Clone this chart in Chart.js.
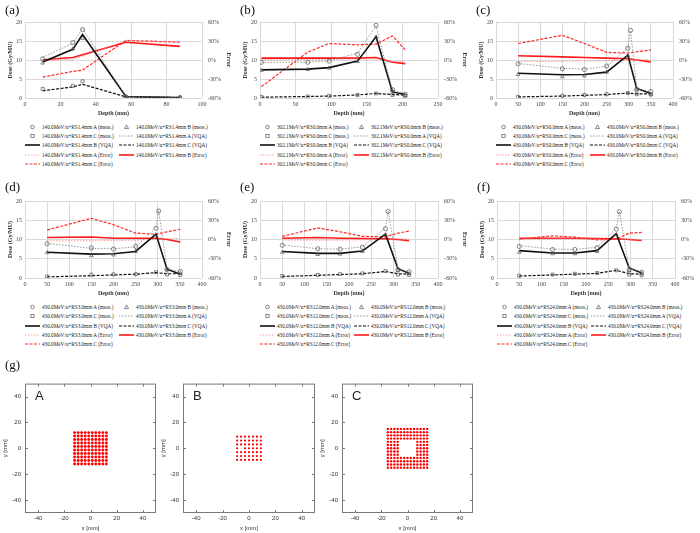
<!DOCTYPE html>
<html>
<head>
<meta charset="utf-8">
<script src="https://cdn.jsdelivr.net/npm/chart.js@4.4.1/dist/chart.umd.min.js"></script>
<style>
  body { margin: 0; width: 700px; height: 533px; overflow: hidden; background: #fff; position: relative; font-family: "Liberation Serif", serif; }
  .cv { position: absolute; }
  .tag { position: absolute; font: 13px "Liberation Serif", serif; color: #111; line-height: 1; }
  .lg { position: absolute; font: 5.2px "Liberation Serif", serif; color: #222; white-space: nowrap; line-height: 6px; height: 6px; }
  .lg svg { position: absolute; top: 0; }
  .lg span { position: absolute; top: 0; }
  .spot { position: absolute; font: 13px "Liberation Sans", sans-serif; color: #222; line-height: 1; }
</style>
</head>
<body>
<script>
// ---- (a) 140.0 MeV/u ----
const aDepth = [10, 27, 32.5, 57, 87.5];
const aMeasA = [10.3, 14.6, 18.0, 0.3, 0.1];
const aMeasB = [9.2, 12.9, 15.7, 0.3, 0.1];
const aMeasC = [2.4, 3.2, 4.4, 0.2, 0.1];
const aVqaA = [10.7, 14.4, 18.3, 0.4, 0.1];
const aVqaB = [9.5, 12.8, 16.7, 0.4, 0.1];
const aVqaC = [1.9, 2.9, 3.6, 0.3, 0.1];
const aErrA = [-1, 0.5, 6, 31, 29];
const aErrB = [0.5, 4, 8.4, 28, 21.5];
const aErrC = [-27, -18, -16, 31, 28];

// ---- (b) 302.1 MeV/u ----
const bDepth = [2, 67, 97, 137, 163, 186, 204];
const bMeasA = [9.4, 9.4, 9.7, 11.5, 19.1, 2.2, 1.0];
const bMeasB = [7.3, 7.5, 7.9, 9.6, 16.0, 1.9, 0.6];
const bMeasC = [0.3, 0.4, 0.6, 0.8, 1.2, 0.8, 0.6];
const bVqaA = [9.4, 9.4, 9.8, 11.8, 18.9, 2.0, 1.2];
const bVqaB = [7.4, 7.6, 8.0, 9.7, 16.1, 1.6, 0.9];
const bVqaC = [0.2, 0.4, 0.5, 0.8, 1.2, 0.9, 0.8];
const bErrA = [0.5, 0.5, 1, 1.5, 1.5, -2.6, -2.6];
const bErrB = [3, 3, 3, 3, 4, -3.6, -5.7];
const bErrC = [-42, 12.4, 26, 24, 25, 38, 16];

// ---- (c) 430.0 MeV/u RS0.0 ----
const cDepth = [50, 150, 200, 250, 298, 304, 318, 350];
const cMeasA = [9.0, 7.7, 7.5, 8.4, 13.1, 17.8, 2.3, 1.7];
const cMeasB = [6.2, 5.6, 5.8, 6.8, 11.1, null, 2.2, 1.0];
const cMeasC = [0.3, 0.6, 0.8, 1.0, 1.3, null, 1.0, 0.9];
const cVqaA = [9.1, 7.8, 7.6, 8.3, 13.2, 17.7, 2.5, 1.6];
const cVqaB = [6.5, 6.1, 6.2, 6.8, 11.3, null, 2.5, 1.2];
const cVqaC = [0.3, 0.5, 0.7, 0.9, 1.3, null, 1.1, 1.1];
const cErrA = [-2.6, -2, -1.5, -1, -0.5, null, 0, 0.5];
const cErrB = [6.7, 5, 4, 3, 2, null, 0, -3];
const cErrC = [26, 39, 26, 12, 11, null, 13, 16];

// ---- (d) 430.0 MeV/u RS3.0 ----
const dDepth = [50, 150, 200, 250, 296, 302, 321, 351];
const dMeasA = [8.9, 7.8, 7.5, 8.2, 12.9, 17.4, 2.2, 1.7];
const dMeasB = [6.6, 5.8, 6.0, 6.9, 11.2, null, 2.2, 1.2];
const dMeasC = [0.4, 0.9, 0.95, 1.0, 1.5, null, 0.9, 0.8];
const dVqaA = [9.0, 7.7, 7.6, 8.1, 13.0, 17.6, 2.4, 1.6];
const dVqaB = [6.7, 6.2, 6.3, 6.9, 11.4, null, 2.3, 1.0];
const dVqaC = [0.3, 0.6, 0.8, 1.0, 1.4, null, 1.1, 1.1];
const dErrA = [-2, -2, -1.5, -1, 0, null, 1, 2];
const dErrB = [3, 4, 2, 2, 2, null, 0, -4];
const dErrC = [15, 33, 23, 10, 8, null, 12, 16];

// ---- (e) 430.0 MeV/u RS12.0 ----
const eDepth = [50, 130, 180, 230, 282, 288, 310, 335];
const eMeasA = [8.5, 7.6, 7.5, 8.0, 12.8, 17.3, 2.2, 1.6];
const eMeasB = [6.7, 6.1, 6.2, 6.9, 11.2, null, 2.0, 1.1];
const eMeasC = [0.5, 0.8, 1.0, 1.2, 1.8, null, 0.9, 0.8];
const eVqaA = [8.6, 7.6, 7.5, 8.1, 13.0, 17.4, 2.4, 1.6];
const eVqaB = [6.9, 6.4, 6.4, 7.0, 11.4, null, 2.4, 1.2];
const eVqaC = [0.4, 0.7, 0.9, 1.1, 1.7, null, 1.1, 1.0];
const eErrA = [-1, -1, -1, -0.5, 0, null, 0.5, 1];
const eErrB = [2, 3, 2, 1.5, 1, null, 0, -2];
const eErrC = [5, 18, 12, 5, 4, null, 10, 13];

// ---- (f) 430.0 MeV/u RS24.0 ----
const fDepth = [50, 125, 175, 225, 268, 275, 297, 325];
const fMeasA = [8.2, 7.4, 7.4, 7.9, 12.7, 17.2, 2.2, 1.5];
const fMeasB = [6.7, 6.3, 6.3, 6.9, 11.2, null, 1.9, 1.1];
const fMeasC = [0.6, 0.9, 1.1, 1.3, 2.0, null, 0.9, 0.7];
const fVqaA = [8.4, 7.5, 7.4, 8.0, 12.9, 17.3, 2.4, 1.6];
const fVqaB = [7.1, 6.5, 6.5, 7.1, 11.5, null, 2.6, 1.3];
const fVqaC = [0.5, 0.8, 1.0, 1.2, 2.0, null, 1.1, 1.0];
const fErrA = [0.5, 1, 1, 0.5, 0.5, null, 0, -0.5];
const fErrB = [2, 2, 2, 1.5, 1, null, 0, -1.5];
const fErrC = [0.5, 5.7, 3.6, -0.5, 0.5, null, 10, 11];

// ---- (g) spot patterns ----
const gridA = [-12.15, -9.45, -6.75, -4.05, -1.35, 1.35, 4.05, 6.75, 9.45, 12.15];
const maskA = [
  "1111111111", "1111111111", "1111111111", "1111111111", "1111111111",
  "1111111111", "1111111111", "1111111111", "1111111111", "1111111111",
];
const gridB = [-9, -6, -3, 0, 3, 6, 9];
const maskB = ["1111111", "1111111", "1111111", "1011111", "1111111", "1111111", "1111111"];
const gridC = [-15, -12.5, -10, -7.5, -5, -2.5, 0, 2.5, 5, 7.5, 10, 12.5, 15];
const maskC = [
  "1111111111111", "1111111111111", "1111111111111", "1111111111111",
  "1111000001111", "1111000001111", "1111000001111", "1111000001111", "1111000001111",
  "1111111111111", "1111111111111", "1111111111111", "1111111111111",
];

const seriesNames = ["A (meas.)", "B (meas.)", "C (meas.)", "A (VQA)", "B (VQA)", "C (VQA)", "A (Error)", "B (Error)", "C (Error)"];

Chart.defaults.font.family = '"Liberation Serif", serif';
Chart.defaults.animation = false;

const GRID = "#d9d9d9";
const styles = [
  { kind: "pt", pointStyle: "circle", color: "#555" },
  { kind: "pt", pointStyle: "triangle", color: "#555" },
  { kind: "pt", pointStyle: "rect", color: "#555" },
  { kind: "ln", color: "#808080", width: 0.8, dash: [1.5, 1.5], axis: "y" },
  { kind: "ln", color: "#111", width: 1.6, dash: [], axis: "y" },
  { kind: "ln", color: "#111", width: 1.2, dash: [3, 1.5], axis: "y" },
  { kind: "ln", color: "#ff8080", width: 0.8, dash: [1.5, 1.5], axis: "y1" },
  { kind: "ln", color: "#ff1a1a", width: 1.6, dash: [], axis: "y1" },
  { kind: "ln", color: "#ff2a2a", width: 1.2, dash: [3, 1.5], axis: "y1" },
];

function pairs(xs, ys) {
  return xs.map((x, i) => ({ x, y: ys[i] })).filter((p) => p.y !== null);
}

function addBox(tag, left, top, width, height) {
  const el = document.createElement(tag);
  el.className = "cv";
  el.style.left = left + "px";
  el.style.top = top + "px";
  el.style.width = width + "px";
  el.style.height = height + "px";
  document.body.appendChild(el);
  return el;
}

function addText(cls, text, left, top) {
  const el = document.createElement("div");
  el.className = cls;
  el.textContent = text;
  el.style.left = left + "px";
  el.style.top = top + "px";
  document.body.appendChild(el);
  return el;
}

function swatch(st) {
  if (st.kind === "pt") {
    let shape = '<circle cx="7.5" cy="3" r="1.8"';
    if (st.pointStyle === "triangle") shape = '<polygon points="7.5,0.9 9.5,4.6 5.5,4.6"';
    if (st.pointStyle === "rect") shape = '<rect x="5.9" y="1.4" width="3.2" height="3.2"';
    return `<svg width="15" height="6">${shape} fill="none" stroke="${st.color}" stroke-width="0.7"/></svg>`;
  }
  return `<svg width="15" height="6"><line x1="0" y1="3" x2="15" y2="3" stroke="${st.color}" stroke-width="${st.width}" stroke-dasharray="${st.dash.join(" ")}"/></svg>`;
}

function buildLegend(prefix, chartLeft, rows) {
  seriesNames.forEach((name, i) => {
    const col = i % 2;
    const row = Math.floor(i / 2);
    const x = chartLeft + (col === 0 ? 0 : 94);
    const el = document.createElement("div");
    el.className = "lg";
    el.style.left = x + "px";
    el.style.top = (rows[row] - 3) + "px";
    el.innerHTML = swatch(styles[i]) + `<span style="left:17px">${prefix} ${name}</span>`;
    document.body.appendChild(el);
  });
}

function depthPanel(p) {
  // the right strip of (c) runs past the page edge, so its title is cut off as in the figure
  const rightW = p.rightW || 30;
  const w = p.right - p.left + 25 + rightW;
  const h = 22 + (p.bottom - p.top) + 22;
  const canvas = addBox("canvas", p.left - 25, p.top - 22, w, h);
  const series = [p.measA, p.measB, p.measC, p.vqaA, p.vqaB, p.vqaC, p.errA, p.errB, p.errC];
  const datasets = series.map((vals, i) => {
    const st = styles[i];
    const base = { label: p.prefix + " " + seriesNames[i], data: pairs(p.depth, vals) };
    if (st.kind === "pt") {
      return Object.assign(base, {
        yAxisID: "y", showLine: false, pointStyle: st.pointStyle, pointRadius: 2.1,
        pointBorderWidth: 0.7, pointBorderColor: st.color, pointBackgroundColor: "rgba(255,255,255,0)",
        borderColor: st.color, order: 0,
      });
    }
    return Object.assign(base, {
      yAxisID: st.axis, borderColor: st.color, borderWidth: st.width, borderDash: st.dash,
      pointRadius: 0, tension: 0, spanGaps: true, fill: false, order: 1,
    });
  });
  const tickFont = { size: 6 };
  new Chart(canvas, {
    type: "line",
    data: { datasets },
    options: {
      responsive: false,
      layout: { padding: { top: 22, left: 0, right: 0, bottom: 0 } },
      plugins: { legend: { display: false }, tooltip: { enabled: false } },
      scales: {
        x: {
          type: "linear", min: 0, max: p.xMax,
          ticks: { stepSize: p.xStep, font: tickFont, color: "#444", padding: 3, maxRotation: 0 },
          grid: { color: GRID, drawTicks: false },
          border: { display: false },
          title: { display: true, text: "Depth (mm)", font: { size: 6, weight: "bold" }, color: "#333", padding: { top: 0, bottom: 3.4 } },
          afterFit: (s) => { s.height = 22; },
        },
        y: {
          position: "left", min: 0, max: 20,
          ticks: { stepSize: 5, font: tickFont, color: "#444", padding: 3 },
          grid: { color: GRID, drawTicks: false },
          border: { display: false },
          title: { display: true, text: "Dose (Gy/MU)", font: { size: 6, weight: "bold" }, color: "#333", padding: { top: 7, bottom: 0 } },
          afterFit: (s) => { s.width = 25; },
        },
        y1: {
          position: "right", min: -60, max: 60,
          ticks: { stepSize: 30, font: tickFont, color: "#444", padding: 6, callback: (v) => v + "%" },
          grid: { display: false, drawTicks: false },
          border: { display: false },
          title: { display: true, text: "Error", font: { size: 6, weight: "bold" }, color: "#333", padding: { top: 0, bottom: 0 } },
          afterFit: (s) => { s.width = rightW; },
        },
      },
    },
  });
}

const framePlugin = {
  id: "frame",
  afterDraw(chart) {
    const { ctx, chartArea: a, scales } = chart;
    ctx.save();
    ctx.strokeStyle = "#7a7a7a";
    ctx.lineWidth = 1;
    ctx.strokeRect(a.left + 0.5, a.top + 0.5, a.right - a.left - 1, a.bottom - a.top - 1);
    ctx.beginPath();
    scales.x.ticks.forEach((t) => {
      const px = Math.round(scales.x.getPixelForValue(t.value)) + 0.5;
      ctx.moveTo(px, a.bottom); ctx.lineTo(px, a.bottom - 3);
      ctx.moveTo(px, a.top); ctx.lineTo(px, a.top + 3);
    });
    scales.y.ticks.forEach((t) => {
      const py = Math.round(scales.y.getPixelForValue(t.value)) + 0.5;
      ctx.moveTo(a.left, py); ctx.lineTo(a.left + 3, py);
      ctx.moveTo(a.right, py); ctx.lineTo(a.right - 3, py);
    });
    ctx.stroke();
    ctx.restore();
  },
};

function spotPanel(grid, mask, left, right, radius, letter) {
  const top = 380, bottom = 513;
  const canvas = addBox("canvas", left - 25, top - 4, right - left + 27, bottom - top + 24);
  const pts = [];
  mask.forEach((row, r) => {
    row.split("").forEach((c, k) => {
      if (c === "1") pts.push({ x: grid[k], y: grid[grid.length - 1 - r] });
    });
  });
  const f = { size: 6, family: '"Liberation Sans", sans-serif' };
  new Chart(canvas, {
    type: "scatter",
    data: { datasets: [{ data: pts, pointRadius: radius, pointBackgroundColor: "#ff0000", pointBorderWidth: 0 }] },
    options: {
      responsive: false,
      layout: { padding: { top: 4, right: 2, left: 0, bottom: 0 } },
      plugins: { legend: { display: false }, tooltip: { enabled: false } },
      scales: {
        x: {
          min: -50, max: 50,
          ticks: { font: f, color: "#333", padding: 2 },
          afterBuildTicks: (s) => { s.ticks = [-40, -20, 0, 20, 40].map((v) => ({ value: v })); },
          grid: { display: false, drawTicks: false },
          border: { display: false },
          title: { display: true, text: "x [mm]", font: f, color: "#333", padding: { top: 0, bottom: 1.4 } },
          afterFit: (s) => { s.height = 20; },
        },
        y: {
          min: -50, max: 50,
          ticks: { font: f, color: "#333", padding: 4 },
          afterBuildTicks: (s) => { s.ticks = [-40, -20, 0, 20, 40].map((v) => ({ value: v })); },
          grid: { display: false, drawTicks: false },
          border: { display: false },
          title: { display: true, text: "y [mm]", font: f, color: "#333", padding: { top: 1.4, bottom: 0 } },
          afterFit: (s) => { s.width = 25; },
        },
      },
    },
    plugins: [framePlugin],
  });
  addText("spot", letter, left + 10, top + 9);
}

const ROW1 = [127, 136, 145, 155, 164];
const ROW2 = [307, 316, 326, 335, 344];

const panels = [
  { tag: "(a)", prefix: "140.0MeV/u+RS1.4mm", left: 25, right: 202, top: 22, bottom: 98, xMax: 100, xStep: 20, rows: ROW1,
    depth: aDepth, measA: aMeasA, measB: aMeasB, measC: aMeasC, vqaA: aVqaA, vqaB: aVqaB, vqaC: aVqaC, errA: aErrA, errB: aErrB, errC: aErrC },
  { tag: "(b)", prefix: "302.1MeV/u+RS0.0mm", left: 260, right: 438, top: 22, bottom: 98, xMax: 250, xStep: 50, rows: ROW1,
    depth: bDepth, measA: bMeasA, measB: bMeasB, measC: bMeasC, vqaA: bVqaA, vqaB: bVqaB, vqaC: bVqaC, errA: bErrA, errB: bErrB, errC: bErrC },
  { tag: "(c)", prefix: "430.0MeV/u+RS0.0mm", left: 496, right: 673, top: 22, bottom: 98, xMax: 400, xStep: 50, rows: ROW1, rightW: 38,
    depth: cDepth, measA: cMeasA, measB: cMeasB, measC: cMeasC, vqaA: cVqaA, vqaB: cVqaB, vqaC: cVqaC, errA: cErrA, errB: cErrB, errC: cErrC },
  { tag: "(d)", prefix: "430.0MeV/u+RS3.0mm", left: 25, right: 202, top: 201, bottom: 278, xMax: 400, xStep: 50, rows: ROW2,
    depth: dDepth, measA: dMeasA, measB: dMeasB, measC: dMeasC, vqaA: dVqaA, vqaB: dVqaB, vqaC: dVqaC, errA: dErrA, errB: dErrB, errC: dErrC },
  { tag: "(e)", prefix: "430.0MeV/u+RS12.0mm", left: 260, right: 438, top: 201, bottom: 278, xMax: 400, xStep: 50, rows: ROW2,
    depth: eDepth, measA: eMeasA, measB: eMeasB, measC: eMeasC, vqaA: eVqaA, vqaB: eVqaB, vqaC: eVqaC, errA: eErrA, errB: eErrB, errC: eErrC },
  { tag: "(f)", prefix: "430.0MeV/u+RS24.0mm", left: 497, right: 675, top: 201, bottom: 278, xMax: 400, xStep: 50, rows: ROW2,
    depth: fDepth, measA: fMeasA, measB: fMeasB, measC: fMeasC, vqaA: fVqaA, vqaB: fVqaB, vqaC: fVqaC, errA: fErrA, errB: fErrB, errC: fErrC },
];

panels.forEach((p) => {
  depthPanel(p);
  buildLegend(p.prefix, p.left, p.rows);
  addText("tag", p.tag, p.left - 20, p.top - (p.top > 100 ? 21 : 19));
});

addText("tag", "(g)", 5, 358);
spotPanel(gridA, maskA, 25, 158, 1.45, "A");
spotPanel(gridB, maskB, 183, 317, 1.1, "B");
spotPanel(gridC, maskC, 342, 475, 1.2, "C");
</script>
</body>
</html>
